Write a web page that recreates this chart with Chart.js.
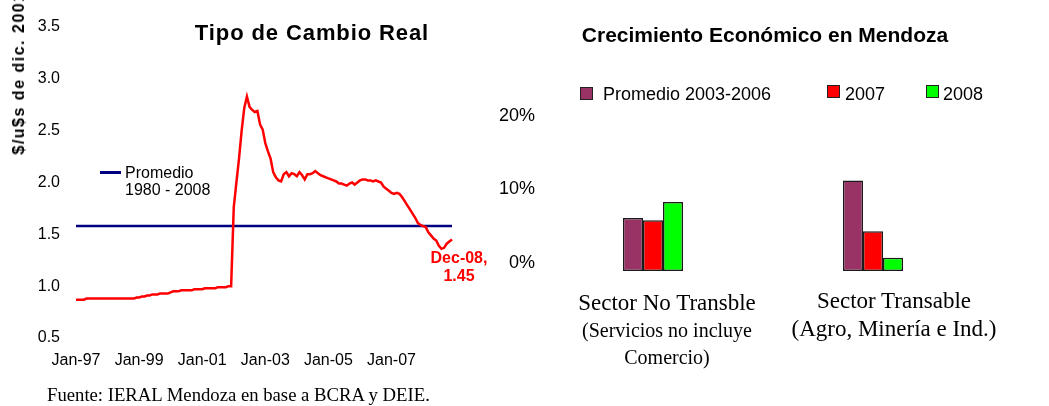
<!DOCTYPE html>
<html><head><meta charset="utf-8">
<script src="https://cdn.jsdelivr.net/npm/chart.js@4.4.1/dist/chart.umd.min.js"></script>
<style>
html,body{margin:0;padding:0;background:#fff;}
#wrap{position:relative;width:1049px;height:406px;overflow:hidden;font-family:"Liberation Sans",Arial,sans-serif;color:#000;}
.abs{position:absolute;white-space:nowrap;line-height:1;}
.serif{font-family:"Liberation Serif","Times New Roman",serif;}
.ctr{transform:translateX(-50%);}
#c1{position:absolute;left:0;top:0;width:500px;height:385px;}
#c2{position:absolute;left:480px;top:0;width:569px;height:406px;}
.sw{position:absolute;width:13px;height:13px;border:1px solid #222;box-sizing:border-box;}
</style></head><body>
<div id="wrap">
<canvas id="c1" width="500" height="385"></canvas>
<canvas id="c2" width="569" height="406"></canvas>
<div id="t1" class="abs ctr" style="left:312px;top:22px;font-size:22px;font-weight:bold;letter-spacing:0.9px;"></div>
<div id="yt1" class="abs" style="left:19px;top:73px;font-size:16px;font-weight:bold;letter-spacing:1.5px;transform:translate(-50%,-50%) rotate(-90deg);"></div>
<div class="abs" style="left:100px;top:171px;width:21px;height:3px;background:#000080;"></div>
<div id="lg1a" class="abs" style="left:125px;top:165px;font-size:16px;"></div>
<div id="lg1b" class="abs" style="left:125px;top:182px;font-size:16px;"></div>
<div id="src" class="abs serif" style="left:47px;top:386px;font-size:18.7px;"></div>
<div id="t2" class="abs ctr" style="left:765px;top:24px;font-size:21px;font-weight:bold;"></div>
<div id="legend2"></div>
<div id="cats"></div>
</div>
<script>
// ---------- data: Tipo de Cambio Real ----------
const leftTitle = 'Tipo de Cambio Real';
const leftYTitle = '$/u$s de dic. 2001';
const years = ['97','98','99','00','01','02','03','04','05','06','07','08'];
const monthNames = ['Jan','Feb','Mar','Apr','May','Jun','Jul','Aug','Sep','Oct','Nov','Dec'];
const xTickLabels = ['Jan-97','Jan-99','Jan-01','Jan-03','Jan-05','Jan-07'];
const yTicksLeft = [0.5, 1.0, 1.5, 2.0, 2.5, 3.0, 3.5];
const tcr = [
  0.87,0.87,0.87,0.87,0.88,0.88,0.88,0.88,0.88,0.88,0.88,0.88,
  0.88,0.88,0.88,0.88,0.88,0.88,0.88,0.88,0.88,0.88,0.88,0.89,
  0.89,0.90,0.90,0.91,0.91,0.92,0.92,0.92,0.93,0.93,0.93,0.93,
  0.94,0.95,0.95,0.95,0.96,0.96,0.96,0.96,0.96,0.97,0.97,0.97,
  0.97,0.98,0.98,0.98,0.98,0.98,0.99,0.99,0.99,0.99,1.00,1.00,
  1.76,2.00,2.23,2.50,2.72,2.83,2.73,2.70,2.68,2.69,2.56,2.51,
  2.38,2.30,2.23,2.10,2.05,2.02,2.01,2.08,2.10,2.06,2.09,2.08,
  2.06,2.10,2.07,2.03,2.08,2.08,2.09,2.11,2.09,2.07,2.06,2.05,
  2.04,2.03,2.02,2.01,1.99,1.99,1.98,1.97,1.99,2.00,1.98,2.00,
  2.02,2.03,2.03,2.02,2.02,2.01,2.02,2.01,2.00,1.96,1.94,1.92,
  1.90,1.89,1.90,1.89,1.86,1.82,1.78,1.74,1.70,1.66,1.61,1.59,
  1.58,1.57,1.52,1.49,1.46,1.44,1.39,1.36,1.37,1.41,1.43,1.45
];
const promedioValue = 1.58;
const promedioLabel = ['Promedio', '1980 - 2008'];
const sourceText = 'Fuente: IERAL Mendoza en base a BCRA y DEIE.';

// ---------- data: Crecimiento Económico ----------
const rightTitle = 'Crecimiento Económico en Mendoza';
const sectors = ['Sector No Transble', 'Sector Transable'];
const sectorSub = [['(Servicios no incluye', 'Comercio)'], ['(Agro, Minería e Ind.)']];
const seriesNames = ['Promedio 2003-2006', '2007', '2008'];
const promedio0306 = [7.2, 12.3];
const growth2007 = [6.9, 5.4];
const growth2008 = [9.4, 1.8];
const yTicksRight = [0, 10, 20];
const barColors = ['#993366', '#FF0000', '#00FF00'];

// ---------- build ----------
const months = [];
years.forEach(y => monthNames.forEach(m => months.push(m + '-' + y)));

document.getElementById('t1').textContent = leftTitle;
document.getElementById('yt1').textContent = leftYTitle;
document.getElementById('lg1a').textContent = promedioLabel[0];
document.getElementById('lg1b').textContent = promedioLabel[1];
document.getElementById('src').textContent = sourceText;
document.getElementById('t2').textContent = rightTitle;

const FONT = '"Liberation Sans", Arial, sans-serif';
Chart.defaults.font.family = FONT;
Chart.defaults.color = '#000';

const endLabel = {
  id: 'endLabel',
  afterDatasetsDraw(chart) {
    const meta = chart.getDatasetMeta(0);
    const last = meta.data[meta.data.length - 1];
    const ctx = chart.ctx;
    ctx.save();
    ctx.fillStyle = '#FF0000';
    ctx.font = 'bold 16px ' + FONT;
    ctx.textAlign = 'center';
    ctx.textBaseline = 'alphabetic';
    ctx.fillText(months[months.length - 1] + ',', last.x + 7, last.y + 23);
    ctx.fillText(tcr[tcr.length - 1].toFixed(2), last.x + 7, last.y + 41);
    ctx.restore();
  }
};

new Chart(document.getElementById('c1'), {
  type: 'line',
  data: {
    labels: months,
    datasets: [
      { data: tcr, borderColor: '#FF0000', borderWidth: 2.5, pointRadius: 0, tension: 0, fill: false },
      { data: [{x: months[0], y: promedioValue}, {x: months[months.length - 1], y: promedioValue}],
        borderColor: '#000080', borderWidth: 2.5, pointRadius: 0, fill: false }
    ]
  },
  options: {
    responsive: false, animation: false,
    layout: { padding: { top: 27, right: 48, bottom: 7, left: 0 } },
    plugins: { legend: { display: false }, tooltip: { enabled: false } },
    scales: {
      x: {
        type: 'category', offset: false,
        grid: { display: false, drawTicks: false }, border: { display: false },
        ticks: { autoSkip: false, maxRotation: 0, minRotation: 0, padding: 13, font: { size: 16 },
          callback: function(v, i) { const l = months[i]; return xTickLabels.includes(l) ? l : ''; } },
        afterFit: s => { s.height = 40; }
      },
      y: {
        min: yTicksLeft[0], max: yTicksLeft[yTicksLeft.length - 1],
        grid: { display: false, drawTicks: false }, border: { display: false },
        ticks: { stepSize: 0.5, padding: 16, font: { size: 16 }, callback: v => Number(v).toFixed(1) },
        afterFit: s => { s.width = 76; }
      }
    }
  },
  plugins: [endLabel]
});

new Chart(document.getElementById('c2'), {
  type: 'bar',
  data: {
    labels: sectors,
    datasets: [promedio0306, growth2007, growth2008].map((d, i) => ({
      label: seriesNames[i], data: d, backgroundColor: barColors[i],
      borderColor: '#1a1a1a', borderWidth: 1.5, borderSkipped: false,
      barPercentage: 1.0, categoryPercentage: 0.273
    }))
  },
  options: {
    responsive: false, animation: false,
    layout: { padding: { top: 124, right: 66, bottom: 135, left: 0 } },
    plugins: { legend: { display: false }, tooltip: { enabled: false } },
    scales: {
      x: { display: false },
      y: {
        min: yTicksRight[0], max: yTicksRight[yTicksRight.length - 1],
        grid: { display: false, drawTicks: false }, border: { display: false },
        ticks: { stepSize: 10, padding: 8, labelOffset: -8, font: { size: 18 }, callback: v => v + '%' },
        afterFit: s => { s.width = 63; }
      }
    }
  }
});

// legend for bar chart
const lg = document.getElementById('legend2');
const swPos = [[580, 87, 603], [827, 85, 845], [926, 85, 943]];
seriesNames.forEach((n, i) => {
  const sw = document.createElement('div');
  sw.className = 'sw';
  sw.style.left = swPos[i][0] + 'px'; sw.style.top = swPos[i][1] + 'px';
  sw.style.background = barColors[i];
  lg.appendChild(sw);
  const t = document.createElement('div');
  t.className = 'abs';
  t.style.left = swPos[i][2] + 'px'; t.style.top = '84.5px'; t.style.fontSize = '18px';
  t.textContent = n;
  lg.appendChild(t);
});

// category labels
const cats = document.getElementById('cats');
const catCfg = [
  { x: 667, lines: [[291.4, 23], [320.3, 20], [346.7, 20]] },
  { x: 894, lines: [[288.7, 23], [317.2, 23]] }
];
sectors.forEach((s, i) => {
  const texts = [s].concat(sectorSub[i]);
  texts.forEach((tx, j) => {
    const d = document.createElement('div');
    d.className = 'abs serif ctr';
    d.style.left = catCfg[i].x + 'px';
    d.style.top = catCfg[i].lines[j][0] + 'px';
    d.style.fontSize = catCfg[i].lines[j][1] + 'px';
    d.textContent = tx;
    cats.appendChild(d);
  });
});
</script>
</body></html>
